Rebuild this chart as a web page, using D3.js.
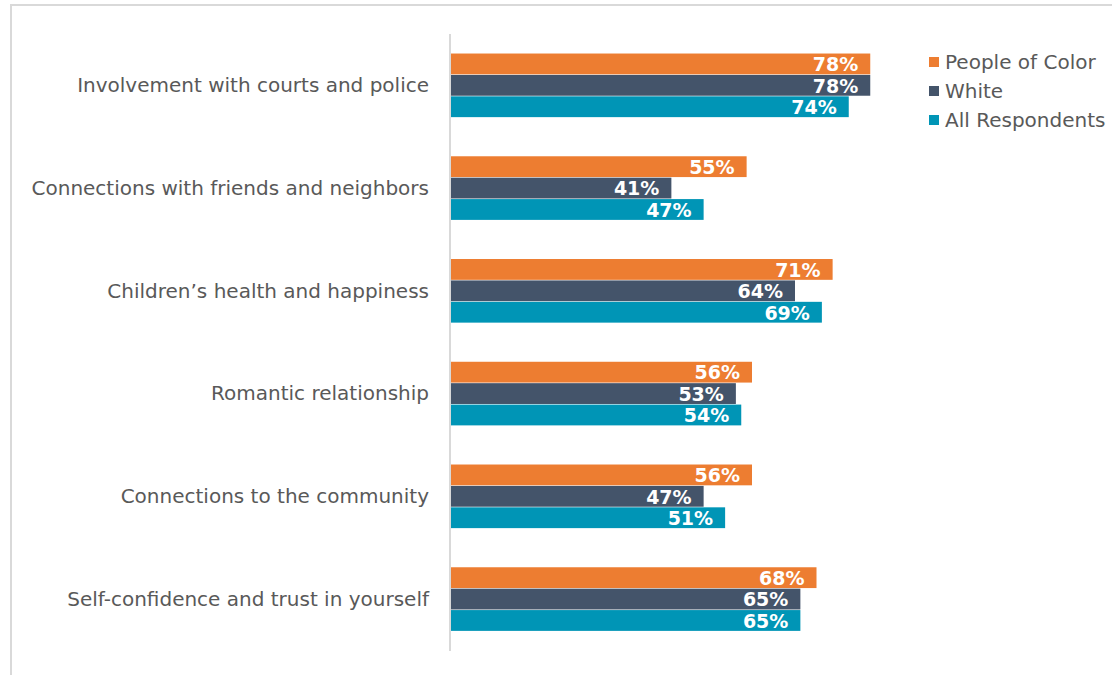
<!DOCTYPE html>
<html><head><meta charset="utf-8">
<script src="https://cdn.jsdelivr.net/npm/d3@7"></script>
<style>body{margin:0;background:#fff;} text{font-family:"DejaVu Sans",Arial,sans-serif;}</style>
</head><body>
<svg id="c" width="1112" height="675"></svg>
<script>
const categories = ["Involvement with courts and police","Connections with friends and neighbors","Children’s health and happiness","Romantic relationship","Connections to the community","Self-confidence and trust in yourself"];
const seriesNames = ["People of Color","White","All Respondents"];
const peopleOfColor = [78,55,71,56,56,68];
const white = [78,41,64,53,47,65];
const allRespondents = [74,47,69,54,51,65];
const colors = ["#ED7D31","#44546A","#0095B6"];

const seriesVals = [peopleOfColor, white, allRespondents];
const svg = d3.select("#c");
// frame
svg.append("path").attr("d","M11,675 L11,5 L1112,5").attr("fill","none").attr("stroke","#d9d9d9").attr("stroke-width",2);

const x0 = 451;
const x = d3.scaleLinear().domain([0,100]).range([x0, x0+537.5]);
const y = d3.scaleBand().domain(categories).range([34,651]).paddingInner(0.375).paddingOuter(0.19);
const yi = d3.scaleBand().domain(seriesNames).range([0,y.bandwidth()]);

const g = svg.append("g");
categories.forEach((c,ci)=>{
  seriesNames.forEach((s,si)=>{
    const v = seriesVals[si][ci];
    g.append("rect").attr("x",x(0)).attr("y",y(c)+yi(s)).attr("width",x(v)-x(0)).attr("height",yi.bandwidth()-0.6).attr("fill",colors[si]);
    g.append("text").attr("x",x(v)-12).attr("y",y(c)+yi(s)+yi.bandwidth()/2).attr("dy","0.37em")
      .attr("text-anchor","end").attr("fill","#fff").attr("font-size",19).attr("font-weight","bold").text(v+"%");
  });
});
// axis
const ax = svg.append("g").attr("transform",`translate(${x0-1},0)`).call(d3.axisLeft(y).tickSize(0).tickPadding(21));
ax.select(".domain").attr("stroke","#d9d9d9").attr("stroke-width",2).attr("d","M0,34V651");
ax.selectAll("text").attr("font-size",20).attr("fill","#595959").attr("font-family","DejaVu Sans, Arial, sans-serif");

const lg = svg.append("g");
seriesNames.forEach((s,i)=>{
  const yy = 62 + i*29;
  lg.append("rect").attr("x",929).attr("y",yy-5).attr("width",10).attr("height",10).attr("fill",colors[i]);
  lg.append("text").attr("x",945).attr("y",yy).attr("dy","0.36em").attr("font-size",20).attr("fill","#595959").text(s);
});
</script>
</body></html>
